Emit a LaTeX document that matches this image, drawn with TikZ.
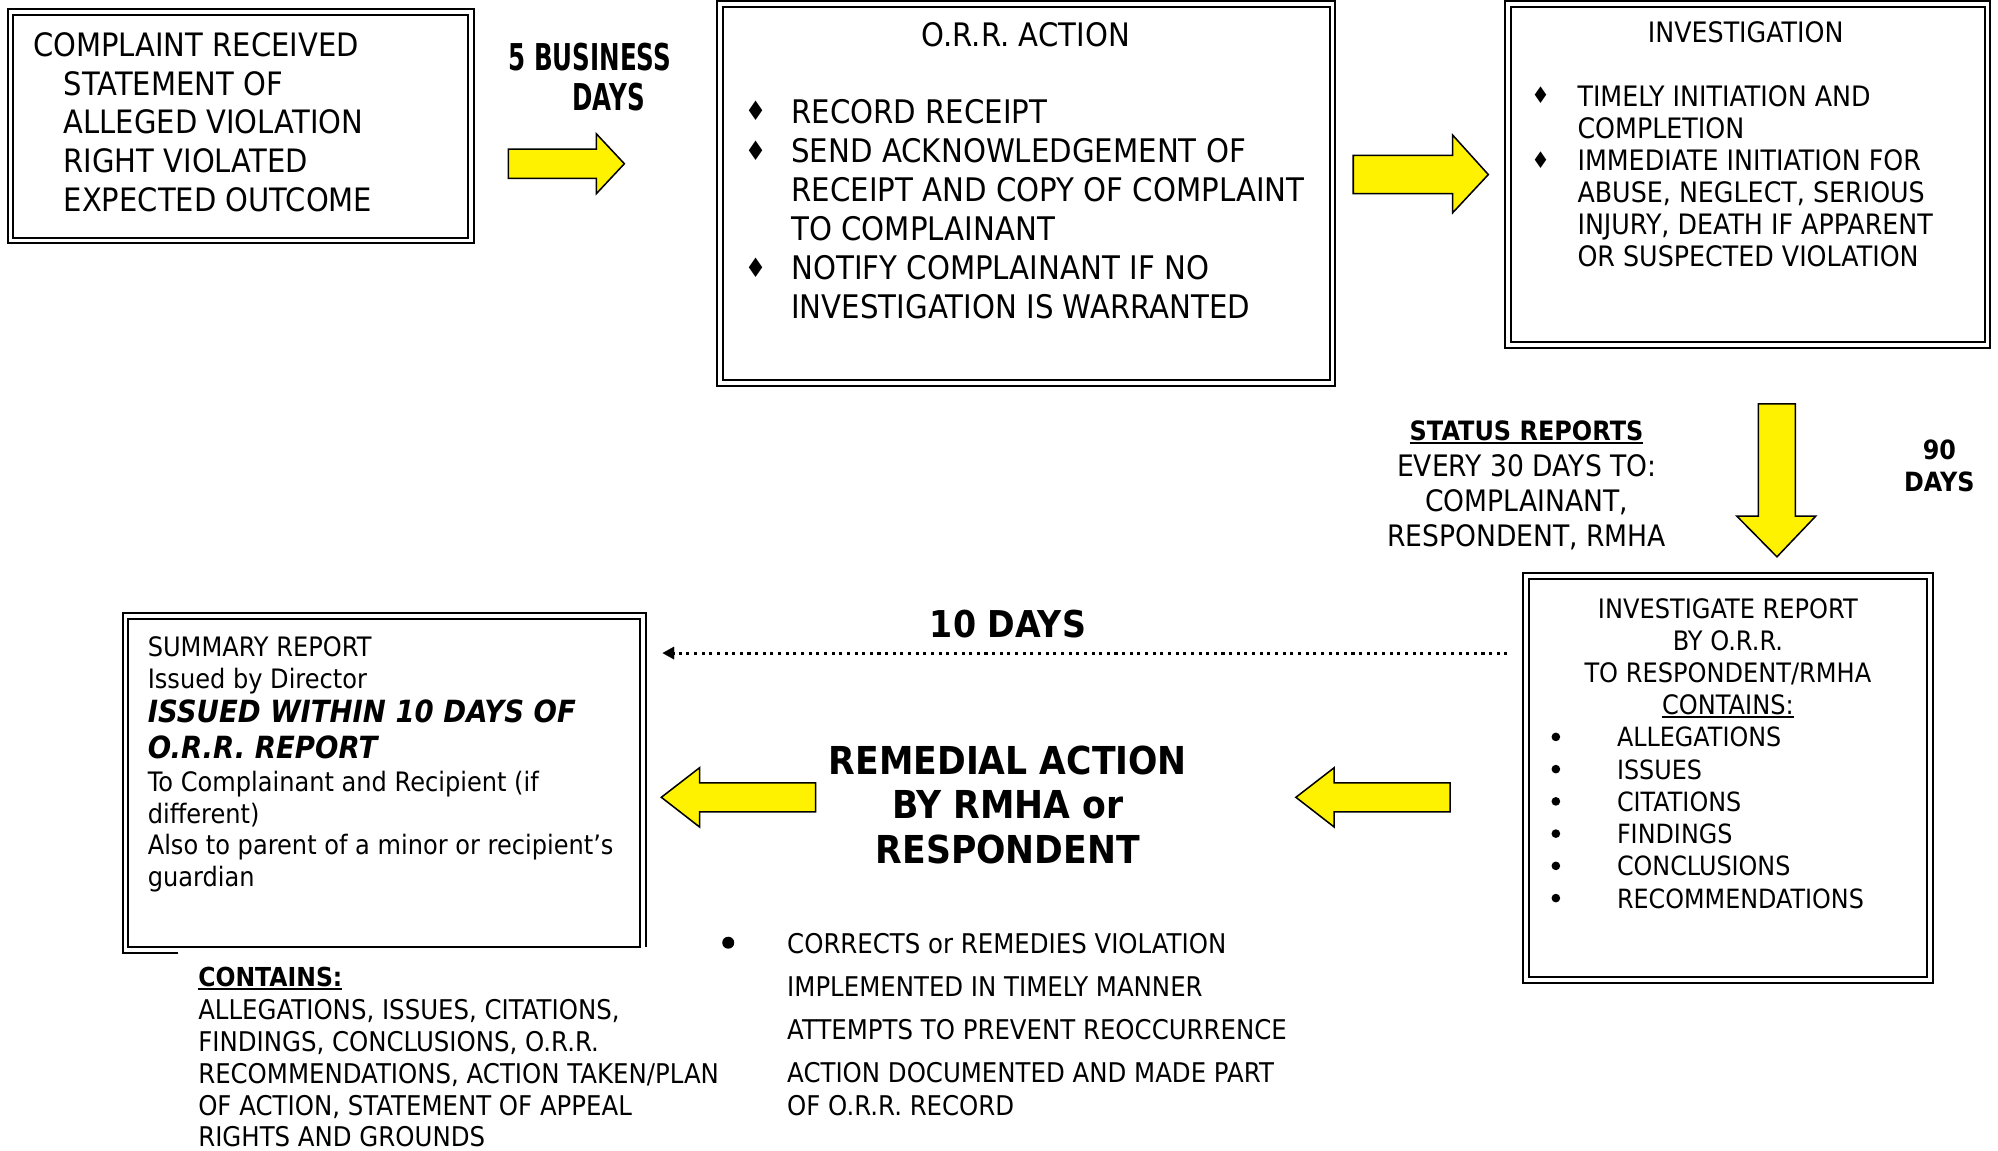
\documentclass[tikz,border=0pt]{standalone}
\usepackage{fontspec}
\setmainfont[FakeStretch=0.9]{DejaVu Sans}
\newfontfamily\condfam[FakeStretch=0.665]{DejaVu Sans}
\usetikzlibrary{arrows.meta}
\newcommand\setfs[2]{\fontsize{#1pt}{#2pt}\selectfont}
\newcommand\myul[1]{\setbox0\hbox{#1}\rlap{\rule[-2.8pt]{\wd0}{1.5pt}}\box0}
\begin{document}
\begin{tikzpicture}[x=1pt,y=-1pt,
 frame/.style={draw, double, double distance=2.9pt, line width=1.6pt, inner sep=0pt},
 yarrow/.style={fill=yellow, draw=black, line width=1.2pt, line join=miter},
 txt/.style={inner sep=0pt, outer sep=0pt, text=black},
 dot/.style={circle, fill=black, inner sep=0pt}]
\fill[white] (0,0) rectangle (1568,903);
\useasboundingbox (0,0) rectangle (1568,903);

% ---------- frames ----------
\node[frame, minimum width=361.5pt, minimum height=179.5pt] (complaint) at (189,99) {};
\node[frame, minimum width=480.5pt, minimum height=297.5pt] (orr) at (805.5,152) {};
\node[frame, minimum width=376.5pt, minimum height=267.5pt] (inv) at (1371.5,137) {};
\node[frame, minimum width=317pt, minimum height=317pt] (irep) at (1356.25,610.75) {};
\node[draw, line width=1.6pt, inner sep=0pt, minimum width=402pt, minimum height=258pt] (sum) at (301.5,614.5) {};
\draw[line width=1.6pt] (140,747.8) -- (96.2,747.8) -- (96.2,481.2) -- (506.8,481.2) -- (506.8,743.5);

% ---------- block arrows ----------
\draw[yarrow] (399,117) -- (468,117) -- (468,105) -- (490,128.5) -- (468,152) -- (468,140) -- (399,140) -- cycle;
\draw[yarrow] (1062,122) -- (1140,122) -- (1140,106) -- (1168,137) -- (1140,167) -- (1140,152) -- (1062,152) -- cycle;
\draw[yarrow] (1380,317) -- (1409,317) -- (1409,405) -- (1425,405) -- (1394.5,437) -- (1363,405) -- (1380,405) -- cycle;
\draw[yarrow] (1017,625.7) -- (1047,602.5) -- (1047,614.3) -- (1138,614.3) -- (1138,637.1) -- (1047,637.1) -- (1047,649) -- cycle;
\draw[yarrow] (519,625.7) -- (549,602.5) -- (549,614.3) -- (640,614.3) -- (640,637.1) -- (549,637.1) -- (549,649) -- cycle;

% ---------- dotted connector ----------
\coordinate (dA) at (1183,512.5);
\coordinate (dB) at (520,512.5);
\draw[line width=2.4pt, dash pattern=on 2.4pt off 3.6pt, -{Triangle[length=9pt,width=10pt,line width=0.1pt]}] (dA) -- (dB);

% ---------- texts ----------
\node[txt, anchor=north west, align=left, font=\setfs{25.3}{30.3}] (t1) at (26,25.7)
 {COMPLAINT RECEIVED\\\hspace*{24pt}STATEMENT OF\\\hspace*{24pt}ALLEGED VIOLATION\\\hspace*{24pt}RIGHT VIOLATED\\\hspace*{24pt}EXPECTED OUTCOME};

\node[txt, anchor=north west, align=left, font=\condfam\bfseries\setfs{29}{31.5}] (bd) at (399,34)
 {5 BUSINESS\\\hspace*{50pt}DAYS};

\node[txt, anchor=north, font=\setfs{25.4}{30}] (orrT) at (805,17.7) {O.R.R. ACTION};
\node[txt, anchor=north west, align=left, font=\setfs{25.5}{30.6}] (orrL) at (621,77.7)
 {RECORD RECEIPT\\SEND ACKNOWLEDGEMENT OF\\RECEIPT AND COPY OF COMPLAINT\\TO COMPLAINANT\\NOTIFY COMPLAINANT IF NO\\INVESTIGATION IS WARRANTED};
\node[txt, font=\setfs{21}{21}] (od1) at (593,87) {♦};
\node[txt, font=\setfs{21}{21}] (od2) at (593,118) {♦};
\node[txt, font=\setfs{21}{21}] (od3) at (593,210) {♦};

\node[txt, anchor=north, font=\setfs{22.1}{25}] (invT) at (1370,17) {INVESTIGATION};
\node[txt, anchor=north west, align=left, font=\setfs{22.1}{25.2}] (invL) at (1238,67)
 {TIMELY INITIATION AND\\COMPLETION\\IMMEDIATE INITIATION FOR\\ABUSE, NEGLECT, SERIOUS\\INJURY, DEATH IF APPARENT\\OR SUSPECTED VIOLATION};
\node[txt, font=\setfs{18}{18}] (id1) at (1209,75) {♦};
\node[txt, font=\setfs{18}{18}] (id2) at (1209,126) {♦};

\node[txt, anchor=north, font=\bfseries\setfs{20.9}{25}] (st1) at (1198,330.4) {\myul{STATUS REPORTS}};
\node[txt, anchor=north, align=center, font=\setfs{23.2}{27.5}] (st2) at (1198,356.6)
 {EVERY 30 DAYS TO:\\COMPLAINANT,\\RESPONDENT, RMHA};
\node[txt, anchor=north, align=center, font=\bfseries\setfs{20.8}{25}] (nd) at (1522,345.4) {90\\DAYS};

\node[txt, anchor=north, align=center, font=\setfs{21}{25.3}] (irH) at (1356,469.5)
 {INVESTIGATE REPORT\\BY O.R.R.\\TO RESPONDENT/RMHA\\\myul{CONTAINS:}};
\node[txt, anchor=north west, align=left, font=\setfs{20.8}{25.3}] (irL) at (1269,570.7)
 {ALLEGATIONS\\ISSUES\\CITATIONS\\FINDINGS\\CONCLUSIONS\\RECOMMENDATIONS};
\foreach \k in {0,...,5}{
  \node[dot, minimum size=6.8pt] (irb\k) at (1221,578.3+25.3*\k) {};
}

\node[txt, anchor=north, font=\bfseries\setfs{29}{30}] (td) at (791,478.5) {10 DAYS};

\node[txt, anchor=north, align=center, font=\bfseries\setfs{30.2}{35}] (rt) at (791,585)
 {REMEDIAL ACTION\\BY RMHA or\\RESPONDENT};

\node[txt, anchor=north west, align=left, font=\setfs{21}{25}] (s1) at (116,499.4)
 {SUMMARY REPORT\\Issued by Director};
\node[txt, anchor=north west, align=left, font=\bfseries\itshape\setfs{24}{28}] (s2) at (116,549.3)
 {ISSUED WITHIN 10 DAYS OF\\O.R.R. REPORT};
\node[txt, anchor=north west, align=left, font=\setfs{21}{25}] (s3) at (116,605)
 {To Complainant and Recipient (if\\different)\\Also to parent of a minor or recipient’s\\guardian};

\node[txt, anchor=north west, font=\bfseries\setfs{20.5}{25}] (ct) at (155.6,758.7) {\myul{CONTAINS:}};
\node[txt, anchor=north west, align=left, font=\setfs{21.3}{25}] (cl) at (155.6,784.3)
 {ALLEGATIONS, ISSUES, CITATIONS,\\FINDINGS, CONCLUSIONS, O.R.R.\\RECOMMENDATIONS, ACTION TAKEN/PLAN\\OF ACTION, STATEMENT OF APPEAL\\RIGHTS AND GROUNDS};

\node[dot, minimum size=9.4pt] (rb) at (571.5,739.8) {};
\node[txt, anchor=north west, align=left, font=\setfs{21.3}{26.2}] (rl) at (617.8,732.3)
 {CORRECTS or REMEDIES VIOLATION\\[7.5pt]IMPLEMENTED IN TIMELY MANNER\\[7.5pt]ATTEMPTS TO PREVENT REOCCURRENCE\\[7.5pt]ACTION DOCUMENTED AND MADE PART\\OF O.R.R. RECORD};
\end{tikzpicture}
\end{document}
